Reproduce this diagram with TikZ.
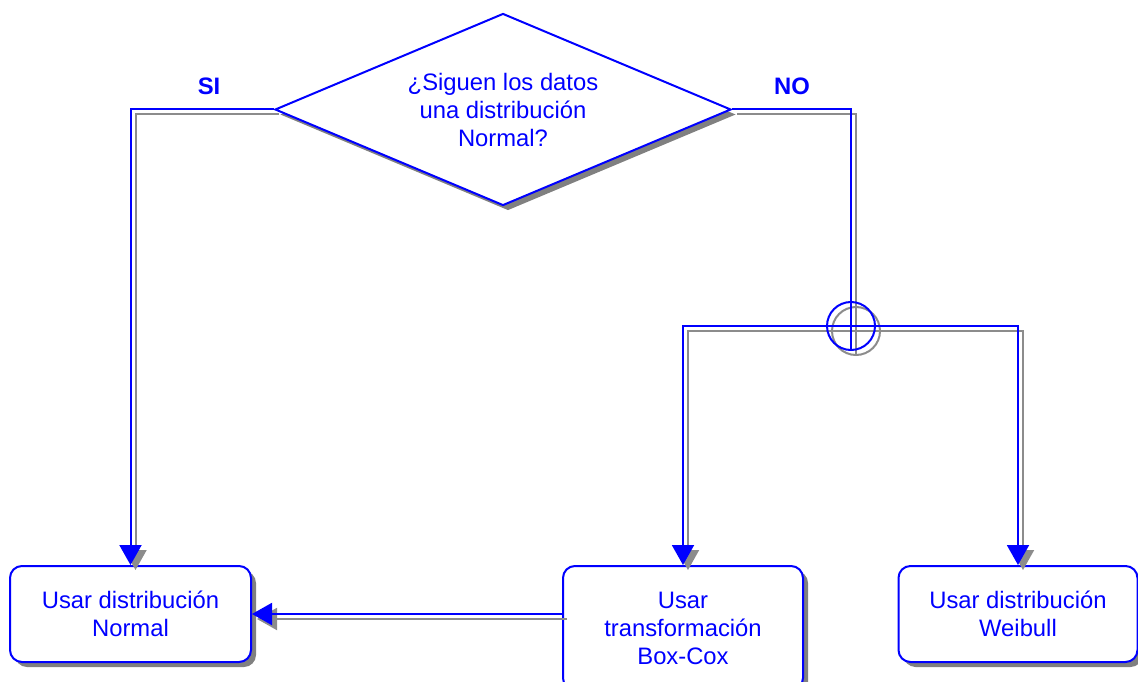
\documentclass[tikz,border=0pt]{standalone}
\usepackage{fontspec}
\setmainfont{Liberation Sans}
\usetikzlibrary{shapes.geometric,arrows.meta,shadows}
\definecolor{fgblue}{RGB}{0,0,255}
\definecolor{shgray}{RGB}{128,128,128}
\definecolor{lngray}{RGB}{140,140,140}
\tikzset{
  txt/.style={font=\fontsize{23.8}{28}\selectfont, text=fgblue, align=center},
  shad/.style={drop shadow={shadow xshift=5pt,shadow yshift=-5pt,fill=shgray,opacity=1}},
  boxnode/.style={txt, shad, draw=fgblue, line width=2pt, fill=white, rounded corners=12pt, inner sep=0pt},
  decision/.style={txt, shad, draw=fgblue, line width=2pt, fill=white, diamond, aspect=2.375, inner sep=0pt},
  conn/.style={draw=fgblue, line width=2pt},
  connsh/.style={draw=lngray, line width=2pt, transform canvas={shift={(5pt,-5pt)}}},
  tip/.style={-{Triangle[length=20pt,width=22pt]}},
  lbl/.style={font=\fontsize{23.8}{28}\selectfont\bfseries, text=fgblue, inner sep=0pt},
}
\begin{document}
\begin{tikzpicture}[x=1pt,y=-1pt]
\useasboundingbox (0,0) rectangle (1138,682);
\clip (0,0) rectangle (1138,682);

\node[decision, minimum width=456, minimum height=192] (q) at (503,109.5)
  {¿Siguen los datos\\una distribución\\Normal?};
\node[boxnode, minimum width=241, minimum height=96] (normal) at (130.5,614)
  {Usar distribución\\Normal};
\node[boxnode, minimum width=240, minimum height=124] (boxcox) at (683,628)
  {Usar\\transformación\\Box-Cox};
\node[boxnode, minimum width=239, minimum height=96] (weibull) at (1018,614)
  {Usar distribución\\Weibull};
\node[circle, minimum size=48, inner sep=0pt] (j) at (851,326) {};

\node[lbl] (si) at (209,86) {SI};
\node[lbl] (no) at (792,86) {NO};

% shadows of connectors
\draw[connsh, tip] (q.west) -| (normal.north);
\draw[connsh] (q.east) -| (j.south);
\draw[connsh] (j.center) circle[radius=24];
\draw[connsh, tip] (j.center) -| (boxcox.north);
\draw[connsh, tip] (j.center) -| (weibull.north);
\draw[connsh, tip] (normal.east -| boxcox.west) -- (normal.east);

% connectors
\draw[conn, tip] (q.west) -| (normal.north);
\draw[conn] (q.east) -| (j.south);
\draw[conn] (j.center) circle[radius=24];
\draw[conn, tip] (j.center) -| (boxcox.north);
\draw[conn, tip] (j.center) -| (weibull.north);
\draw[conn, tip] (normal.east -| boxcox.west) -- (normal.east);
\end{tikzpicture}
\end{document}
